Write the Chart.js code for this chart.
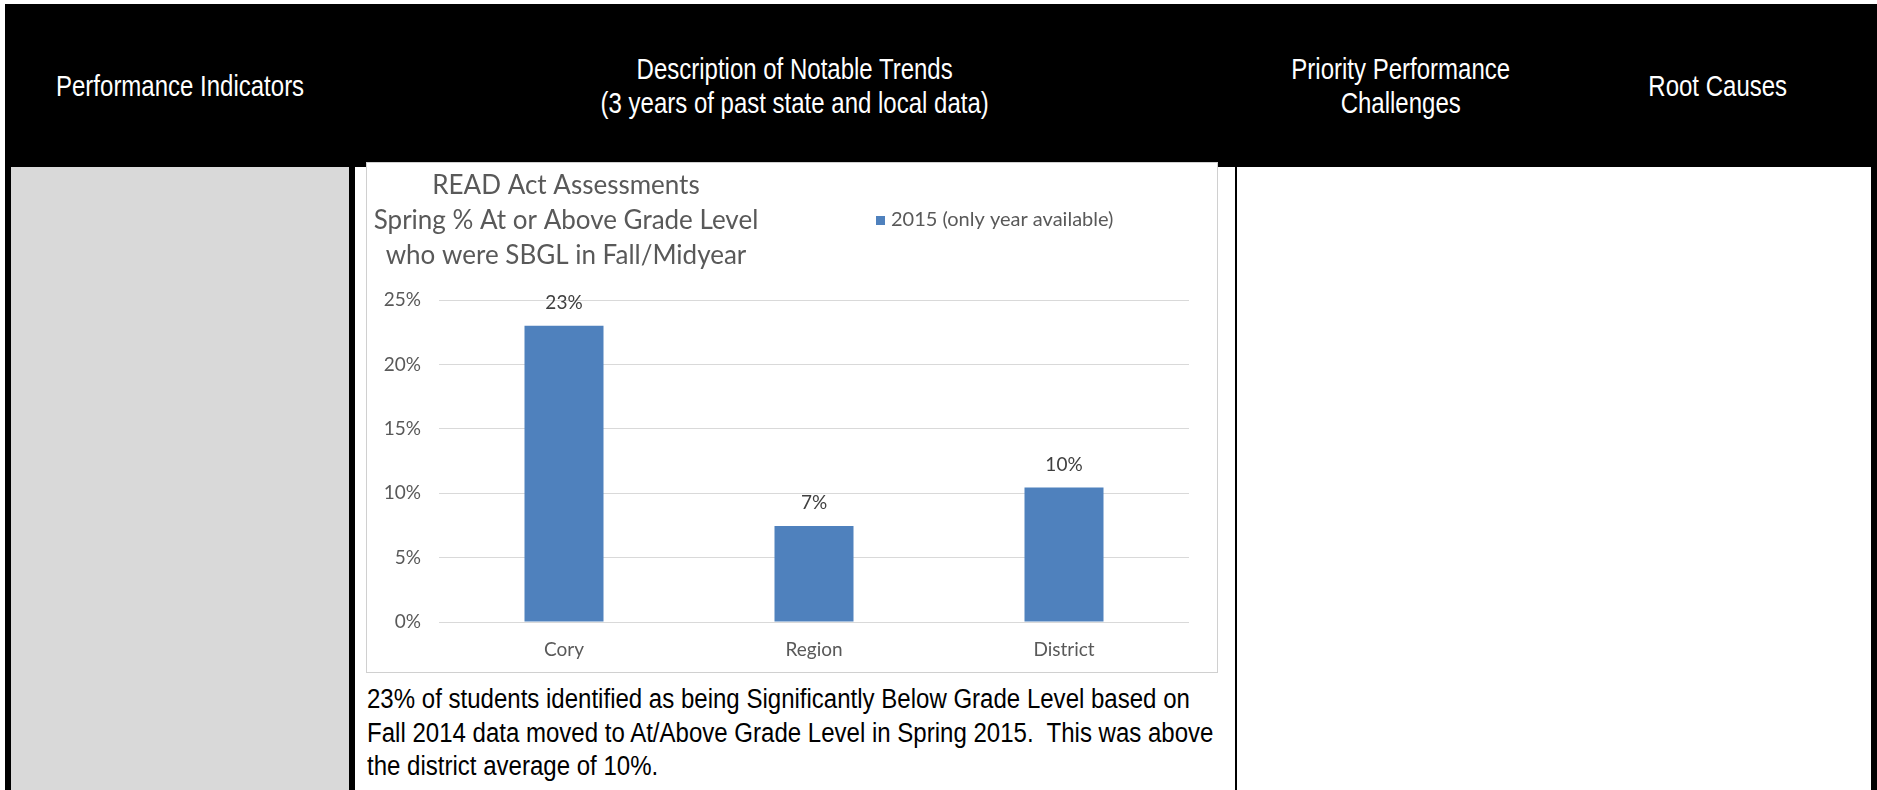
<!DOCTYPE html>
<html>
<head>
<meta charset="utf-8">
<title>READ Act Assessments</title>
<script src="https://cdn.jsdelivr.net/npm/chart.js@4.4.1/dist/chart.umd.min.js"></script>
<style>
  html, body { margin: 0; padding: 0; background: #fff; }
  body { width: 1877px; height: 790px; position: relative; overflow: hidden; }
  .blk { position: absolute; background: #000; }
  .gray { position: absolute; background: #d9d9d9; }
  .hcell {
    position: absolute; top: 4px; height: 163px;
    display: flex; align-items: center; justify-content: center;
    color: #fff; font-family: "Liberation Sans", Arial, sans-serif;
    font-size: 30px; line-height: 34px; text-align: center;
  }
  .hcell span { display: inline-block; transform: scaleX(0.8); white-space: nowrap; }
  #chartBox {
    position: absolute; left: 366px; top: 162px; width: 852px; height: 511px;
    box-sizing: border-box; border: 1px solid #d0d0d0; background: #fff;
  }
  #chartBox canvas { display: block; }
  .note {
    position: absolute; left: 367px; top: 683px;
    font-family: "Liberation Sans", Arial, sans-serif; font-size: 27px; line-height: 33.5px;
    color: #000;
  }
  .note div { white-space: nowrap; transform: scaleX(0.89); transform-origin: left center; }
</style>
</head>
<body>
  <!-- table frame -->
  <div class="blk" style="left:5px;top:4px;width:1872px;height:163px;"></div>
  <div class="blk" style="left:5px;top:167px;width:6px;height:623px;"></div>
  <div class="gray" style="left:11px;top:167px;width:338px;height:623px;"></div>
  <div class="blk" style="left:349px;top:167px;width:6px;height:623px;"></div>
  <div class="blk" style="left:1235px;top:167px;width:2px;height:623px;"></div>
  <div class="blk" style="left:1871px;top:167px;width:6px;height:623px;"></div>

  <!-- header cells -->
  <div class="hcell" style="left:11px;width:338px;"><span>Performance Indicators</span></div>
  <div class="hcell" style="left:355px;width:880px;"><span>Description of Notable Trends<br>(3 years of past state and local data)</span></div>
  <div class="hcell" style="left:1237px;width:328px;"><span>Priority Performance<br>Challenges</span></div>
  <div class="hcell" style="left:1565px;width:306px;"><span>Root Causes</span></div>

  <div id="chartBox"><canvas id="chart" width="850" height="509"></canvas></div>

  <div class="note">
    <div>23% of students identified as being Significantly Below Grade Level based on</div>
    <div>Fall 2014 data moved to At/Above Grade Level in Spring 2015.&nbsp; This was above</div>
    <div>the district average of 10%.</div>
  </div>

<script>
// Chart content
const categories = ["Cory", "Region", "District"];
const seriesName = "2015 (only year available)";
const seriesValues = [23, 7.45, 10.45];          // percent
const yTicks = [0, 5, 10, 15, 20, 25];            // percent
const titleLines = ["READ Act Assessments", "Spring % At or Above Grade Level", "who were SBGL in Fall/Midyear"];

const BAR = "#4f81bd";
const AXIS_TEXT = "#595959";
const LABEL_TEXT = "#404040";
const FONT = "Lato, 'Open Sans', sans-serif";

// Title block and legend drawn onto the canvas, left of the plot like the office-style chart
const titleLegendPlugin = {
  id: "titleLegend",
  afterDraw(chart) {
    const ctx = chart.ctx;
    ctx.save();
    ctx.fillStyle = AXIS_TEXT;
    ctx.font = "26px " + FONT;
    ctx.textAlign = "center";
    ctx.textBaseline = "middle";
    titleLines.forEach((t, i) => ctx.fillText(t, 199, 23 + i * 35));

    // legend
    const ds = chart.data.datasets[0];
    ctx.fillStyle = ds.backgroundColor;
    ctx.fillRect(509, 53, 9, 9);
    ctx.fillStyle = AXIS_TEXT;
    ctx.font = "20px " + FONT;
    ctx.textAlign = "left";
    ctx.fillText(ds.label, 524, 57);
    ctx.restore();
  }
};

// Value labels above each bar
const valueLabelPlugin = {
  id: "valueLabels",
  afterDatasetsDraw(chart) {
    const ctx = chart.ctx;
    const meta = chart.getDatasetMeta(0);
    const data = chart.data.datasets[0].data;
    ctx.save();
    ctx.fillStyle = LABEL_TEXT;
    ctx.font = "19px " + FONT;
    ctx.textAlign = "center";
    ctx.textBaseline = "middle";
    meta.data.forEach((bar, i) => {
      ctx.fillText(Math.round(data[i]) + "%", bar.x, bar.y - 23);
    });
    ctx.restore();
  }
};

new Chart(document.getElementById("chart"), {
  type: "bar",
  data: {
    labels: categories,
    datasets: [{
      label: seriesName,
      data: seriesValues,
      backgroundColor: BAR,
      borderWidth: 0,
      barPercentage: 0.316,
      categoryPercentage: 1.0
    }]
  },
  options: {
    responsive: false,
    animation: false,
    devicePixelRatio: 1,
    layout: { padding: { top: 137, right: 28, left: 0, bottom: 0 } },
    plugins: {
      legend: { display: false },
      title: { display: false },
      tooltip: { enabled: false }
    },
    scales: {
      x: {
        grid: { display: false, drawTicks: false },
        border: { display: false },
        ticks: { color: AXIS_TEXT, font: { family: FONT, size: 19 }, padding: 16 },
        afterFit(scale) { scale.height = 50; }
      },
      y: {
        min: 0, max: 25,
        afterBuildTicks(scale) { scale.ticks = yTicks.map(v => ({ value: v })); },
        grid: { color: "#d9d9d9", lineWidth: 1, drawTicks: false },
        border: { display: false },
        ticks: {
          color: AXIS_TEXT, font: { family: FONT, size: 19 }, padding: 18,
          callback: v => v + "%"
        },
        afterFit(scale) { scale.width = 72; }
      }
    }
  },
  plugins: [titleLegendPlugin, valueLabelPlugin]
});
</script>
</body>
</html>
